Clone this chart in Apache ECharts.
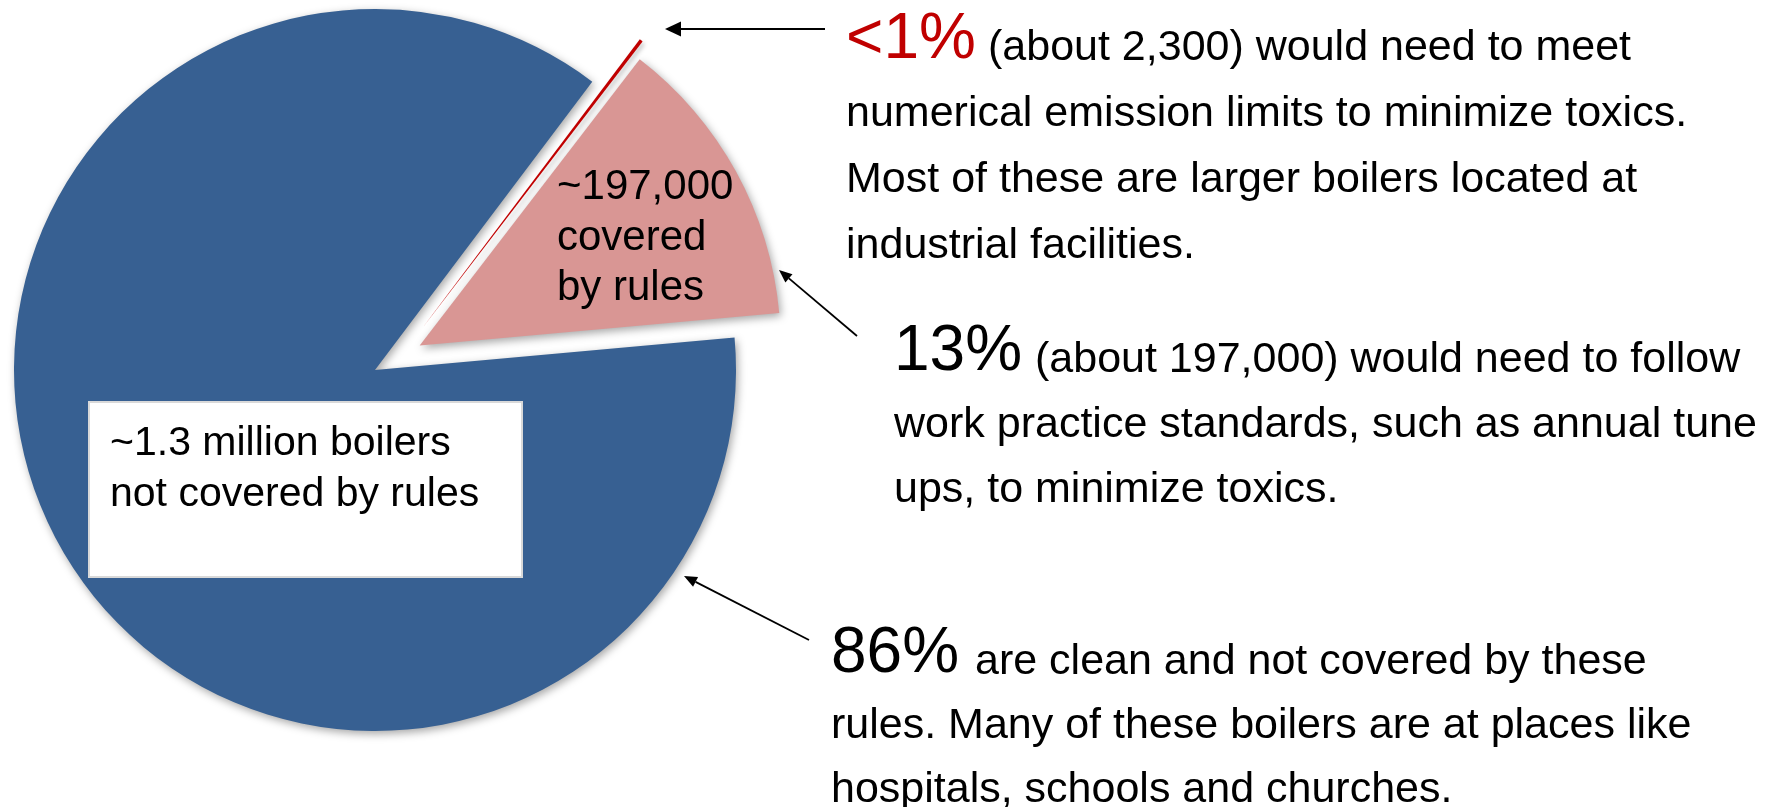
<!DOCTYPE html>
<html>
<head>
<meta charset="utf-8">
<title>Boilers covered by rules</title>
<style>
    html, body { margin: 0; padding: 0; background: #fff; }
    #main { width: 1768px; height: 807px; }
</style>
<script src="https://cdn.jsdelivr.net/npm/echarts@6/dist/echarts.min.js"></script>
</head>
<body>
<div id="main"></div>
<script>
// 数据
var categories = ['Numerical emission limits', 'Work practice standards', 'Not covered by rules'];
var boilerCounts = [2300, 197000, 1300000];
var sliceColors = ['#c00000', '#d99694', '#376092'];

var bigLabels = ['<1%', '13%', '86%'];
var firstLines = [
    '(about 2,300) would need to meet',
    '(about 197,000) would need to follow',
    'are clean and not covered by these'
];
var restLines = [
    ['numerical emission limits to minimize toxics.', 'Most of these are larger boilers located at', 'industrial facilities.'],
    ['work practice standards, such as annual tune', 'ups, to minimize toxics.'],
    ['rules. Many of these boilers are at places like', 'hospitals, schools and churches.']
];
var coveredLabel = ['~197,000', 'covered', 'by rules'];
var notCoveredLabel = ['~1.3 million boilers', 'not covered by rules'];

;(function (window, document, echarts) {
    var FONT = "'Liberation Sans', Arial, sans-serif";
    var myChart = echarts.init(document.getElementById('main'), null, {renderer: 'canvas'});

    // 饼图: visible = 这一层画哪些扇区
    function makePie(visible, center, offset, z) {
        return {
            type: 'pie',
            center: center,
            radius: 361,
            startAngle: 53,
            clockwise: true,
            selectedMode: 'multiple',
            selectedOffset: offset,
            silent: true,
            z: z,
            label: {show: false},
            labelLine: {show: false},
            emphasis: {disabled: true},
            data: categories.map(function (name, i) {
                var on = visible.indexOf(i) > -1;
                var style = {
                    color: sliceColors[i],
                    opacity: on ? 1 : 0,
                    borderWidth: 0,
                    shadowBlur: on ? (i === 0 ? 4 : 8) : 0,
                    shadowOffsetX: 2,
                    shadowOffsetY: 3,
                    shadowColor: i === 0 ? 'rgba(0,0,0,0.25)' : 'rgba(0,0,0,0.35)'
                };
                return {
                    name: name,
                    value: boilerCounts[i],
                    selected: on && i < 2,
                    itemStyle: style,
                    select: {itemStyle: style}
                };
            })
        };
    }

    function arrow(x1, y1, x2, y2, head, half, w) {
        var ang = Math.atan2(y2 - y1, x2 - x1);
        var bx = x2 - head * Math.cos(ang), by = y2 - head * Math.sin(ang);
        var nx = -Math.sin(ang) * half, ny = Math.cos(ang) * half;
        return [
            {type: 'line', z: 20, shape: {x1: x1, y1: y1, x2: bx, y2: by}, style: {stroke: '#000', lineWidth: w}},
            {type: 'polygon', z: 20, shape: {points: [[x2, y2], [bx + nx, by + ny], [bx - nx, by - ny]]}, style: {fill: '#000'}}
        ];
    }

    function text(x, y, str, size, color, lh, va) {
        return {
            type: 'text', z: 20, x: x, y: y,
            style: {
                text: str, fontSize: size, fontFamily: FONT, fill: color,
                lineHeight: lh, align: 'left', verticalAlign: va
            }
        };
    }

    // 右侧说明文字: [x, 首行基线, 正文起点x, 行距]
    var blocks = [
        [846, 63, 988, 66],
        [894, 375, 1035, 65],
        [831, 677, 975, 64]
    ];
    var bigColors = ['#c00000', '#000', '#000'];
    var BIG = 64, BODY = 43;

    var graphics = [];
    blocks.forEach(function (b, i) {
        graphics.push(text(b[0], b[1] - BIG * 0.3465, bigLabels[i], BIG, bigColors[i], BIG, 'middle'));
        graphics.push(text(b[2], b[1] - BODY * 0.3465, firstLines[i], BODY, '#000', BODY, 'middle'));
        graphics.push(text(b[0], b[1] + b[3] / 2 - BODY * 0.3465, restLines[i].join('\n'), BODY, '#000', b[3], 'top'));
    });

    // 粉色扇区内文字
    graphics.push(text(557, 202 - 25 - 42 * 0.3465, coveredLabel.join('\n'), 42, '#000', 50.5, 'top'));

    // 白色文本框
    graphics.push({
        type: 'rect', z: 15,
        shape: {x: 89, y: 402, width: 433, height: 175},
        style: {fill: '#fff', stroke: '#d9d9d9', lineWidth: 2}
    });
    graphics.push(text(110, 457 - 25 - 41 * 0.3465, notCoveredLabel.join('\n'), 41, '#000', 51, 'top'));

    // 箭头
    graphics = graphics
        .concat(arrow(825, 29, 665, 29, 16, 7.5, 2))
        .concat(arrow(857, 336, 779, 270, 13, 5.5, 1.8))
        .concat(arrow(809, 640, 684, 576, 13, 5.5, 1.8));

    var option = {
        animation: false,
        backgroundColor: '#fff',
        series: [
            makePie([1, 2], [375, 370], 51, 2),
            makePie([0], [385, 377], 62, 3)
        ],
        graphic: {elements: graphics}
    };

    myChart.setOption(option);
})(window, document, echarts);
</script>
</body>
</html>
